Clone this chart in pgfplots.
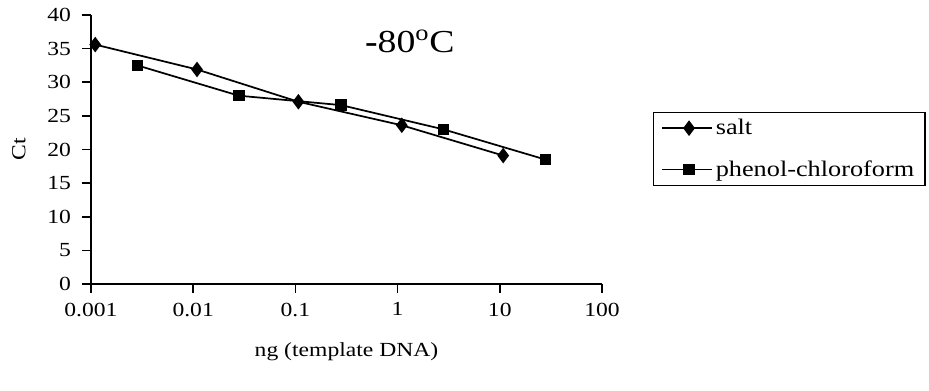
\documentclass[border=0pt]{standalone}
\usepackage{pgfplots}
\pgfplotsset{compat=1.18}
\usepackage{fontspec}
\setmainfont[FakeStretch=1.18]{Liberation Serif}
\begin{document}
\begin{tikzpicture}[x=0.75pt,y=0.75pt]
\path[use as bounding box] (0,0) rectangle (929,391);
\begin{axis}[
  at={(91*0.75pt,107*0.75pt)}, anchor=south west,
  scale only axis, width=511*0.75pt, height=269*0.75pt,
  xmode=log, xmin=0.001, xmax=100, ymin=0, ymax=40,
  axis x line*=bottom, axis y line*=left,
  axis line style={-, line width=1.2pt},
  xtick={0.001,0.01,0.1,1,10,100},
  xticklabels={0.001,0.01,0.1,1,10,100},
  ytick={0,5,...,40},
  tick align=outside, major tick length=6.5pt, minor tick length=0pt,
  every tick/.style={line width=1.2pt, black},
  /pgf/number format/assume math mode=true,
  tick label style={font=\fontsize{15}{17}\selectfont},
  xticklabel style={yshift=-4pt},
  yticklabel style={xshift=-5pt},
  xlabel={ng (template DNA)}, ylabel={Ct},
  label style={font=\fontsize{15}{17}\selectfont},
  xlabel style={at={(axis description cs:0.5,-0.253)}, anchor=center},
  ylabel style={at={(axis description cs:-0.141,0.5)}, anchor=center},
  legend style={at={(axis description cs:1.0998,0.639)}, anchor=north west,
    draw=black, line width=1pt, font=\fontsize{16.7}{18}\selectfont,
    row sep=14pt, inner xsep=6pt, inner ysep=3pt, cells={anchor=west}},
  legend image code/.code={
    \draw[black, line width=1.1pt] (0pt,0pt) -- (37.5pt,0pt);
    \draw[#1] plot coordinates {(20pt,0pt)};
  },
  clip=false,
]
\addplot[black, line width=1.3pt, mark=diamond*, mark size=4.8pt, mark options={solid, fill=black}]
 coordinates {(0.0011,35.6) (0.0109,31.9) (0.107,27.1) (1.1,23.6) (10.8,19.1)};
\addlegendentry{salt}
\addplot[black, line width=1.3pt, mark=square*, mark size=3.6pt, mark options={solid, fill=black}]
 coordinates {(0.00285,32.5) (0.028,28.0) (0.28,26.6) (2.8,23.0) (28,18.5)};
\addlegendentry{phenol-chloroform}
\node[font=\fontsize{24}{26}\selectfont] at (axis description cs:0.624,0.903) {\textbf{-}80\textsuperscript{o}C};
\end{axis}
\end{tikzpicture}
\end{document}
